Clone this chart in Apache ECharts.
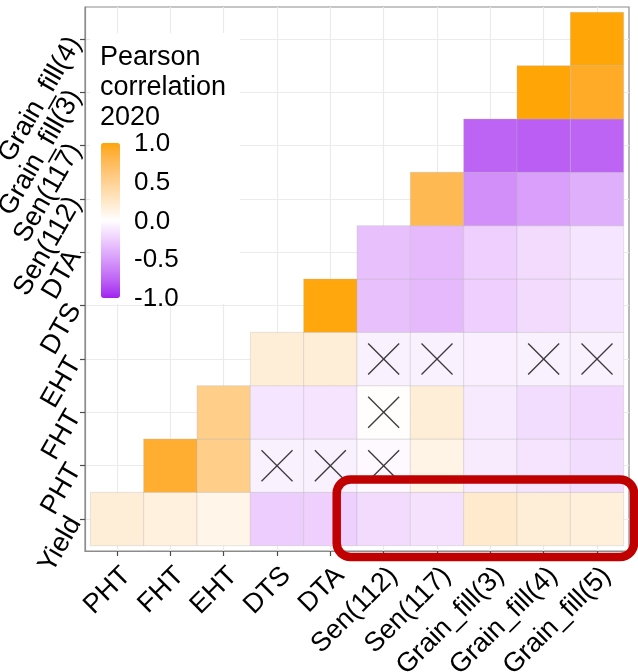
<!DOCTYPE html>
<html>
<head>
<meta charset="utf-8">
<script src="https://cdn.jsdelivr.net/npm/echarts@6/dist/echarts.min.js"></script>
<style>
  html, body { margin: 0; padding: 0; background: #fff; }
  #chart { width: 638px; height: 672px; }
</style>
</head>
<body>
<div id="chart"></div>
<script>
const xLabels = ['PHT', 'FHT', 'EHT', 'DTS', 'DTA', 'Sen(112)', 'Sen(117)', 'Grain_fill(3)', 'Grain_fill(4)', 'Grain_fill(5)']
const yLabels = ['Yield', 'PHT', 'FHT', 'EHT', 'DTS', 'DTA', 'Sen(112)', 'Sen(117)', 'Grain_fill(3)', 'Grain_fill(4)']

// lower triangle, row i holds columns i..9
const corrYield = [0.18, 0.15, 0.10, -0.25, -0.24, -0.18, -0.15, 0.22, 0.18, 0.16]
const corrPHT = [0.90, 0.53, -0.07, -0.07, -0.03, 0.12, -0.10, -0.14, -0.17]
const corrFHT = [0.53, -0.13, -0.14, 0.01, 0.18, -0.11, -0.17, -0.20]
const corrEHT = [0.18, 0.18, -0.07, -0.07, -0.08, -0.07, -0.07]
const corrDTS = [0.98, -0.31, -0.35, -0.24, -0.18, -0.13]
const corrDTA = [-0.31, -0.35, -0.24, -0.18, -0.13]
const corrSen112 = [0.77, -0.56, -0.48, -0.40]
const corrSen117 = [-0.76, -0.78, -0.76]
const corrGF3 = [0.99, 0.93]
const corrGF4 = [0.99]
const corrRows = [corrYield, corrPHT, corrFHT, corrEHT, corrDTS, corrDTA, corrSen112, corrSen117, corrGF3, corrGF4]

// non significant pairs [x, y]
const insignificant = [
  ['DTS', 'PHT'], ['DTA', 'PHT'], ['Sen(112)', 'PHT'],
  ['Sen(112)', 'FHT'],
  ['Sen(112)', 'EHT'], ['Sen(117)', 'EHT'], ['Grain_fill(4)', 'EHT'], ['Grain_fill(5)', 'EHT']
]

const legendTitle = 'Pearson\ncorrelation\n2020'
const legendTicks = [1, 0.5, 0, -0.5, -1]

const FONT = '"Liberation Sans", Arial, Helvetica, sans-serif'

// ggplot style gradient2 (Lab interpolation) purple - white - orange
function hexToLab (hex) {
  const c = [1, 3, 5].map(i => parseInt(hex.substr(i, 2), 16) / 255)
    .map(v => v <= 0.04045 ? v / 12.92 : Math.pow((v + 0.055) / 1.055, 2.4))
  const x = (0.4124 * c[0] + 0.3576 * c[1] + 0.1805 * c[2]) / 0.95047
  const y = 0.2126 * c[0] + 0.7152 * c[1] + 0.0722 * c[2]
  const z = (0.0193 * c[0] + 0.1192 * c[1] + 0.9505 * c[2]) / 1.08883
  const f = t => t > 0.008856 ? Math.cbrt(t) : 7.787 * t + 16 / 116
  return [116 * f(y) - 16, 500 * (f(x) - f(y)), 200 * (f(y) - f(z))]
}
function labToHex (lab) {
  const fy = (lab[0] + 16) / 116
  const fx = fy + lab[1] / 500
  const fz = fy - lab[2] / 200
  const inv = t => t * t * t > 0.008856 ? t * t * t : (t - 16 / 116) / 7.787
  const x = inv(fx) * 0.95047
  const y = inv(fy)
  const z = inv(fz) * 1.08883
  const lin = [
    3.2406 * x - 1.5372 * y - 0.4986 * z,
    -0.9689 * x + 1.8758 * y + 0.0415 * z,
    0.0557 * x - 0.2040 * y + 1.0570 * z
  ]
  return '#' + lin.map(v => {
    v = Math.max(0, Math.min(1, v))
    v = v <= 0.0031308 ? 12.92 * v : 1.055 * Math.pow(v, 1 / 2.4) - 0.055
    return Math.round(v * 255).toString(16).padStart(2, '0')
  }).join('')
}
const labLow = hexToLab('#A020F0')
const labMid = hexToLab('#FFFFFF')
const labHigh = hexToLab('#FFA500')
const scaleColors = []
for (let i = 0; i <= 40; i++) {
  const v = -1 + i * 0.05
  const end = v < 0 ? labLow : labHigh
  const t = Math.abs(v)
  scaleColors.push(labToHex(labMid.map((m, k) => m + (end[k] - m) * t)))
}

const cellData = []
corrRows.forEach((row, y) => {
  row.forEach((val, k) => cellData.push([y + k, y, val]))
})
const crossData = insignificant.map(p => [xLabels.indexOf(p[0]), yLabels.indexOf(p[1])])

// colour bar geometry
const barLeft = 101
const barTop = 143
const barH = 155

// the rotated y labels overlap, so they are split over two stacked axes
// (even rows / odd rows) to stop echarts hiding some of them
function makeYAxis (parity) {
  const ticks = yLabels.map((_, i) => i).filter(i => i % 2 === parity)
  return {
    type: 'value',
    position: 'left',
    min: -0.6,
    max: 9.6,
    axisLine: { show: parity === 0, onZero: false, lineStyle: { color: '#8c8c8c', width: 1.2 } },
    axisTick: {
      show: true,
      length: 5,
      customValues: ticks,
      lineStyle: { color: '#4d4d4d', width: 1.2 }
    },
    axisLabel: {
      customValues: ticks,
      formatter: v => yLabels[Math.round(v)],
      showMinLabel: true,
      showMaxLabel: true,
      hideOverlap: false,
      rotate: 60,
      margin: 10,
      fontSize: 27,
      fontFamily: FONT,
      color: '#000'
    },
    splitLine: { show: true, lineStyle: { color: '#ebebeb', width: 1.2 } }
  }
}

const myChart = echarts.init(document.getElementById('chart'))
myChart.setOption({
  animation: false,
  backgroundColor: '#fff',
  grid: {
    left: 85,
    top: 7,
    width: 544,
    height: 544,
    outerBoundsMode: 'none',
    containLabel: false,
    show: true,
    borderColor: '#8c8c8c',
    borderWidth: 1.2,
    backgroundColor: 'transparent'
  },
  xAxis: {
    type: 'value',
    min: -0.6,
    max: 9.6,
    axisLine: { show: true, onZero: false, lineStyle: { color: '#8c8c8c', width: 1.2 } },
    axisTick: {
      show: true,
      length: 5,
      customValues: xLabels.map((_, i) => i),
      lineStyle: { color: '#4d4d4d', width: 1.2 }
    },
    axisLabel: {
      customValues: xLabels.map((_, i) => i),
      formatter: v => xLabels[Math.round(v)],
      showMinLabel: true,
      showMaxLabel: true,
      hideOverlap: false,
      rotate: 45,
      align: 'right',
      verticalAlign: 'top',
      margin: 11,
      fontSize: 27,
      fontFamily: FONT,
      color: '#000'
    },
    splitLine: { show: true, lineStyle: { color: '#ebebeb', width: 1.2 } }
  },
  yAxis: [makeYAxis(0), makeYAxis(1)],
  visualMap: {
    type: 'continuous',
    min: -1,
    max: 1,
    seriesIndex: 0,
    dimension: 2,
    calculable: false,
    hoverLink: false,
    left: barLeft,
    top: barTop,
    itemWidth: 19,
    itemHeight: barH,
    padding: 0,
    text: null,
    inRange: { color: scaleColors },
    z: 6
  },
  graphic: [
    {
      type: 'rect',
      z: 1,
      shape: { x: 90, y: 33, width: 150, height: 271 },
      style: { fill: '#fff' }
    },
    {
      type: 'text',
      z: 7,
      x: 100,
      y: 43,
      style: { text: legendTitle, font: '27px ' + FONT, lineHeight: 30, fill: '#000', verticalAlign: 'top' }
    },
    ...legendTicks.map(v => ({
      type: 'text',
      z: 7,
      x: 134,
      y: barTop + (1 - v) / 2 * barH + 1,
      style: { text: v.toFixed(1), font: '26px ' + FONT, fill: '#000', verticalAlign: 'middle' }
    })),
    {
      type: 'rect',
      z: 100,
      shape: { x: 336.7, y: 479.5, width: 297.3, height: 77.5, r: 14 },
      style: { fill: 'transparent', stroke: '#C00000', lineWidth: 8.5 }
    }
  ],
  series: [
    {
      type: 'custom',
      z: 2,
      yAxisIndex: 0,
      encode: { x: 0, y: 1 },
      data: cellData,
      renderItem (params, api) {
        const c = api.coord([api.value(0), api.value(1)])
        const s = api.size([1, 1])
        return {
          type: 'rect',
          shape: { x: c[0] - s[0] / 2, y: c[1] - s[1] / 2, width: s[0], height: s[1] },
          style: { fill: api.visual('color'), stroke: 'rgba(180,180,180,0.45)', lineWidth: 0.7 }
        }
      }
    },
    {
      type: 'custom',
      z: 3,
      yAxisIndex: 0,
      encode: { x: 0, y: 1 },
      data: crossData,
      renderItem (params, api) {
        const c = api.coord([api.value(0), api.value(1)])
        const h = 15.5
        const st = { stroke: '#3a3a3a', lineWidth: 1.3 }
        return {
          type: 'group',
          children: [
            { type: 'line', shape: { x1: c[0] - h, y1: c[1] - h, x2: c[0] + h, y2: c[1] + h }, style: st },
            { type: 'line', shape: { x1: c[0] - h, y1: c[1] + h, x2: c[0] + h, y2: c[1] - h }, style: st }
          ]
        }
      }
    }
  ]
})
</script>
</body>
</html>
